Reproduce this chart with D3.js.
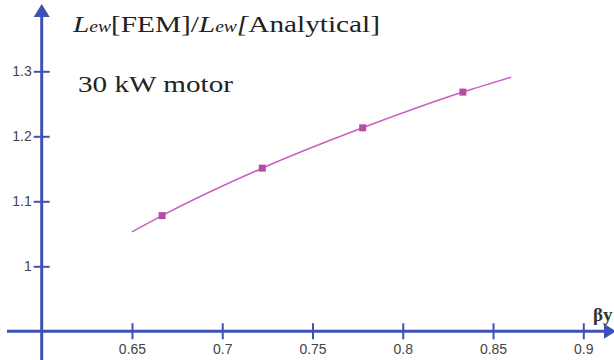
<!DOCTYPE html>
<html>
<head>
<meta charset="utf-8">
<script src="https://cdn.jsdelivr.net/npm/d3@7"></script>
<style>
  html, body { margin: 0; padding: 0; background: #fff; }
  svg { display: block; }
</style>
</head>
<body>
<svg id="chart"></svg>
<script>
// Data
const betaY = [0.6667, 0.7222, 0.7778, 0.8333];
const ratio = [1.078, 1.151, 1.213, 1.268];
// Fitted curve drawn through the markers
const curveX = [0.65, 0.6667, 0.7222, 0.7778, 0.8333, 0.86];
const curveY = [1.053, 1.078, 1.151, 1.213, 1.268, 1.291];
const xTicks = [0.65, 0.7, 0.75, 0.8, 0.85, 0.9];
const yTicks = [1, 1.1, 1.2, 1.3];

const W = 614, H = 360;
const axisColor = '#3f51b5';
const lineColor = '#c860c0';
const markColor = '#b44ca8';

const svg = d3.select('#chart').attr('width', W).attr('height', H);

const x = d3.scaleLinear().domain([0.6, 0.9]).range([41.7, 583.3]);
const y = d3.scaleLinear().domain([0.9, 1.3]).range([331.3, 71.3]);

// Axis lines with arrows
svg.append('line')
  .attr('x1', 7).attr('x2', 606)
  .attr('y1', y(0.9)).attr('y2', y(0.9))
  .attr('stroke', axisColor).attr('stroke-width', 3);
svg.append('path')
  .attr('d', `M604,${y(0.9) - 7.5}L616,${y(0.9)}L604,${y(0.9) + 7.5}Z`)
  .attr('fill', axisColor);

svg.append('line')
  .attr('x1', x(0.6)).attr('x2', x(0.6))
  .attr('y1', H).attr('y2', 14)
  .attr('stroke', axisColor).attr('stroke-width', 3);
svg.append('path')
  .attr('d', `M${x(0.6) - 8},17L${x(0.6)},4L${x(0.6) + 8},17Z`)
  .attr('fill', axisColor);

// Y axis ticks
svg.append('g')
  .attr('transform', `translate(${x(0.6)},0)`)
  .call(d3.axisLeft(y).tickValues(yTicks).tickSize(8).tickPadding(2).tickFormat(d => String(d)))
  .call(g => g.select('.domain').remove())
  .call(g => g.selectAll('.tick line').attr('x1', -8).attr('x2', 8)
    .attr('stroke', axisColor).attr('stroke-width', 2))
  .call(g => g.selectAll('.tick text')
    .attr('font-family', 'Liberation Sans, Arial, sans-serif')
    .attr('font-size', 14).attr('fill', '#444'));

// X axis ticks
svg.append('g')
  .attr('transform', `translate(0,${y(0.9)})`)
  .call(d3.axisBottom(x).tickValues(xTicks).tickSize(8).tickPadding(5).tickFormat(d => String(d)))
  .call(g => g.select('.domain').remove())
  .call(g => g.selectAll('.tick line').attr('y1', -8).attr('y2', 8)
    .attr('stroke', axisColor).attr('stroke-width', 2))
  .call(g => g.selectAll('.tick text')
    .attr('font-family', 'Liberation Sans, Arial, sans-serif')
    .attr('font-size', 14).attr('fill', '#444'));

// Curve
const curvePts = curveX.map((v, i) => [v, curveY[i]]);
svg.append('path')
  .datum(curvePts)
  .attr('fill', 'none')
  .attr('stroke', lineColor)
  .attr('stroke-width', 1.6)
  .attr('d', d3.line().x(d => x(d[0])).y(d => y(d[1])).curve(d3.curveMonotoneX));

// Markers
svg.selectAll('.pt')
  .data(betaY.map((v, i) => [v, ratio[i]]))
  .join('rect')
  .attr('class', 'pt')
  .attr('x', d => x(d[0]) - 3.5)
  .attr('y', d => y(d[1]) - 3.5)
  .attr('width', 7).attr('height', 7)
  .attr('fill', markColor);

// Title
const title = svg.append('text')
  .attr('x', 73).attr('y', 32)
  .attr('font-family', 'Liberation Serif, Times New Roman, serif')
  .attr('font-size', 24).attr('fill', '#222')
  .attr('textLength', 307).attr('lengthAdjust', 'spacingAndGlyphs');
title.append('tspan').attr('font-style', 'italic').text('L');
title.append('tspan').attr('font-style', 'italic').attr('font-size', 16).text('ew');
title.append('tspan').text('[FEM]/');
title.append('tspan').attr('font-style', 'italic').text('L');
title.append('tspan').attr('font-style', 'italic').attr('font-size', 16).text('ew');
title.append('tspan').attr('font-style', 'italic').text('[');
title.append('tspan').text('Analytical]');

svg.append('text')
  .attr('x', 78).attr('y', 92)
  .attr('font-family', 'Liberation Serif, Times New Roman, serif')
  .attr('font-size', 24).attr('fill', '#222')
  .attr('textLength', 155).attr('lengthAdjust', 'spacingAndGlyphs')
  .text('30 kW motor');

// Axis name
svg.append('text')
  .attr('x', 593).attr('y', 321)
  .attr('font-family', 'Liberation Serif, Times New Roman, serif')
  .attr('font-size', 19).attr('font-weight', 'bold').attr('fill', '#333')
  .text('βy');
</script>
</body>
</html>
